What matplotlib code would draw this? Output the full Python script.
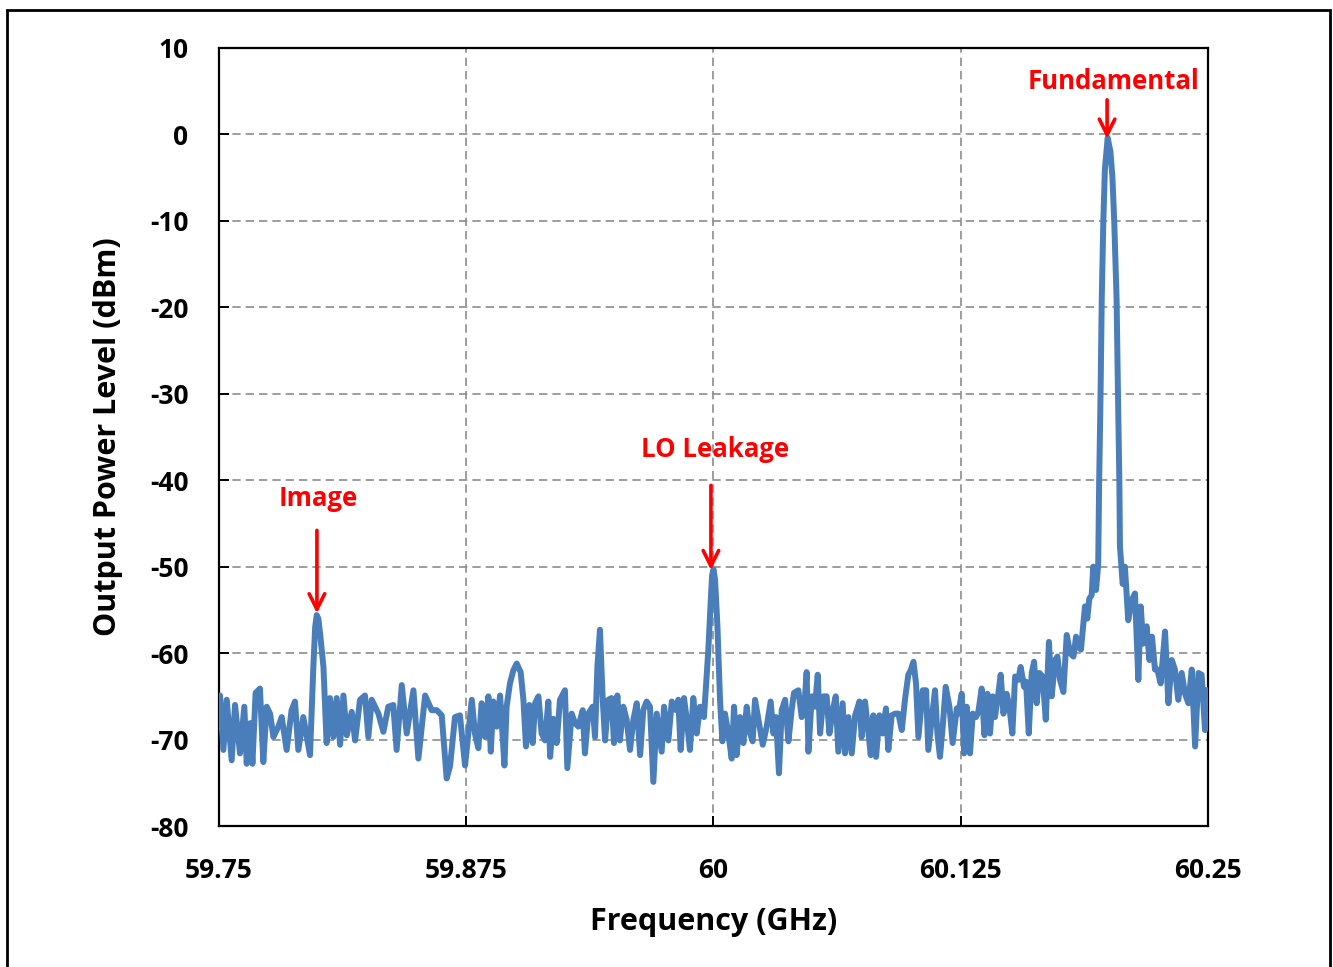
import matplotlib.pyplot as plt
from matplotlib.patches import Rectangle

# Spectrum analyzer trace around the 60 GHz carrier
freq_ghz = [
    59.7500, 59.7505, 59.7522, 59.7539, 59.7564, 59.7581, 59.7606, 59.7628, 59.7640, 59.7657,
    59.7669, 59.7685, 59.7707, 59.7724, 59.7741, 59.7758, 59.7775, 59.7800, 59.7817, 59.7842,
    59.7867, 59.7884, 59.7901, 59.7926, 59.7960, 59.7977, 59.7986, 59.7994, 59.8002, 59.8011,
    59.8028, 59.8044, 59.8061, 59.8078, 59.8095, 59.8112, 59.8129, 59.8146, 59.8171, 59.8188,
    59.8213, 59.8238, 59.8255, 59.8272, 59.8306, 59.8331, 59.8356, 59.8381, 59.8398, 59.8424,
    59.8449, 59.8483, 59.8508, 59.8542, 59.8575, 59.8601, 59.8626, 59.8651, 59.8668, 59.8693,
    59.8718, 59.8744, 59.8778,
    59.8794, 59.8811, 59.8828, 59.8845, 59.8862, 59.8874, 59.8887, 59.8904, 59.8921, 59.8943,
    59.8954, 59.8971, 59.8988, 59.9005, 59.9025, 59.9039, 59.9052, 59.9069, 59.9086, 59.9098,
    59.9115, 59.9131, 59.9148, 59.9165, 59.9174, 59.9190, 59.9207, 59.9224, 59.9249, 59.9261,
    59.9283, 59.9300, 59.9317, 59.9339, 59.9350, 59.9367, 59.9389, 59.9401, 59.9413, 59.9426,
    59.9440, 59.9452, 59.9468, 59.9485, 59.9497, 59.9514, 59.9527, 59.9544, 59.9561, 59.9578,
    59.9595, 59.9612, 59.9629, 59.9645, 59.9662, 59.9679, 59.9696, 59.9713, 59.9738, 59.9750,
    59.9772, 59.9789, 59.9811, 59.9822, 59.9834, 59.9851, 59.9865, 59.9881, 59.9898, 59.9915,
    59.9932, 59.9952, 59.9974, 59.9986, 59.9993, 60.0000, 60.0008, 60.0020,
    60.0033, 60.0045, 60.0058, 60.0075, 60.0092, 60.0104, 60.0117, 60.0134, 60.0151, 60.0168,
    60.0185, 60.0198, 60.0210, 60.0227, 60.0249, 60.0269, 60.0289, 60.0303, 60.0316, 60.0331,
    60.0345, 60.0362, 60.0379, 60.0395, 60.0407, 60.0429, 60.0446, 60.0458, 60.0471, 60.0480,
    60.0497, 60.0513, 60.0527, 60.0539, 60.0556, 60.0572, 60.0586, 60.0603, 60.0618, 60.0631,
    60.0653, 60.0665, 60.0682, 60.0699, 60.0716, 60.0738, 60.0749, 60.0766, 60.0783, 60.0795,
    60.0808, 60.0822, 60.0839, 60.0855, 60.0872, 60.0884, 60.0901, 60.0918, 60.0935, 60.0952,
    60.0968, 60.0985, 60.0997, 60.1011, 60.1024, 60.1036, 60.1058, 60.1075, 60.1086, 60.1103,
    60.1120, 60.1132, 60.1145, 60.1159, 60.1174, 60.1193, 60.1209, 60.1230,
    60.1238, 60.1255, 60.1267, 60.1280, 60.1297, 60.1311, 60.1327, 60.1339, 60.1356, 60.1370,
    60.1385, 60.1398, 60.1412, 60.1423, 60.1440, 60.1452, 60.1466, 60.1482, 60.1496, 60.1511,
    60.1525, 60.1541, 60.1553, 60.1570, 60.1580, 60.1594, 60.1609, 60.1621, 60.1634, 60.1648,
    60.1664, 60.1680, 60.1696, 60.1710, 60.1727, 60.1739, 60.1752, 60.1769, 60.1786, 60.1803,
    60.1820, 60.1833, 60.1845, 60.1858, 60.1870, 60.1878, 60.1890, 60.1900, 60.1912, 60.1920,
    60.1934, 60.1945, 60.1950, 60.1957, 60.1963, 60.1971, 60.1979, 60.1993, 60.2007, 60.2017,
    60.2026, 60.2038, 60.2045, 60.2052, 60.2055, 60.2069, 60.2080, 60.2097, 60.2114, 60.2131,
    60.2148, 60.2160, 60.2173, 60.2190, 60.2204, 60.2217, 60.2232, 60.2244, 60.2261, 60.2283,
    60.2300, 60.2317, 60.2333, 60.2350, 60.2367, 60.2384, 60.2401, 60.2418, 60.2435, 60.2452,
    60.2468, 60.2485, 60.2497,
]

power_dbm = [
    -68.5, -64.9, -71.2, -65.4, -72.4, -66.0, -71.6, -66.2, -72.8, -68.1,
    -72.8, -64.6, -64.1, -72.6, -66.2, -67.0, -69.7, -68.5, -67.4, -71.2,
    -66.6, -65.6, -71.2, -67.4, -71.8, -61.6, -57.0, -55.6, -56.0, -57.7,
    -61.6, -70.4, -65.2, -69.7, -65.2, -70.6, -64.9, -69.5, -66.8, -70.1,
    -65.4, -64.9, -69.7, -65.4, -67.0, -69.1, -66.2, -66.0, -71.2, -63.7,
    -69.3, -64.3, -72.2, -64.9, -66.6, -66.6, -67.2, -74.5, -73.1, -67.4,
    -67.2, -73.0, -65.4,
    -69.3, -71.0, -65.8, -69.7, -65.0, -71.4, -65.6, -68.5, -64.9, -73.0,
    -66.2, -63.5, -62.0, -61.2, -62.2, -65.4, -70.8, -66.0, -70.4, -65.8,
    -65.0, -69.3, -70.1, -65.6, -72.0, -67.6, -70.4, -65.4, -64.3, -73.3,
    -67.0, -68.1, -68.5, -66.6, -71.6, -67.0, -66.2, -69.7, -61.6, -57.3,
    -65.4, -70.1, -65.4, -65.2, -70.4, -64.9, -70.1, -66.2, -67.7, -71.2,
    -67.7, -65.8, -71.8, -66.6, -65.6, -66.2, -74.9, -67.0, -71.4, -66.2,
    -70.1, -65.6, -66.6, -65.4, -71.2, -65.2, -67.7, -71.2, -65.2, -69.3,
    -66.2, -67.4, -59.6, -54.0, -51.0, -50.3, -51.5, -56.9,
    -65.4, -70.2, -67.0, -69.3, -72.2, -66.2, -71.8, -67.4, -70.4, -66.2,
    -69.3, -70.2, -65.4, -67.7, -70.6, -68.5, -65.6, -69.3, -67.4, -73.9,
    -66.6, -65.4, -70.2, -66.6, -64.6, -64.3, -67.4, -66.6, -62.2, -71.4,
    -65.0, -66.2, -62.5, -69.3, -65.0, -65.0, -69.3, -66.6, -65.0, -71.4,
    -65.8, -71.6, -67.4, -71.6, -67.2, -65.6, -69.7, -65.6, -69.1, -71.8,
    -67.2, -72.0, -67.2, -69.3, -66.4, -71.2, -67.2, -67.0, -67.0, -68.9,
    -65.4, -62.5, -62.0, -61.0, -63.5, -69.7, -64.3, -64.3, -71.2, -67.7,
    -64.3, -69.3, -72.0, -68.5, -63.9, -66.2, -70.4, -66.4,
    -67.0, -64.7, -71.6, -66.2, -71.6, -67.0, -67.4, -66.8, -64.1, -69.5,
    -64.7, -69.3, -65.0, -67.4, -64.7, -62.5, -67.0, -64.7, -66.2, -69.3,
    -62.7, -63.1, -61.6, -63.9, -63.3, -69.3, -62.3, -61.0, -65.8, -62.3,
    -62.7, -67.7, -58.7, -65.0, -60.8, -60.4, -63.1, -64.5, -57.9, -60.0,
    -60.4, -58.1, -59.3, -59.6, -56.6, -54.6, -56.0, -53.7, -53.3, -50.0,
    -52.7, -49.8, -40.0, -30.0, -19.0, -10.0, -4.0, -0.4, -2.0, -5.0,
    -10.0, -19.0, -30.0, -40.0, -47.7, -52.0, -50.0, -56.2, -53.9, -53.1,
    -63.1, -54.6, -58.9, -56.9, -60.8, -58.1, -61.9, -61.9, -63.5, -57.5,
    -65.8, -60.8, -61.9, -65.4, -62.3, -64.7, -65.8, -61.9, -70.8, -62.3,
    -62.5, -68.9, -64.3,
]

x_ticks = [59.75, 59.875, 60.0, 60.125, 60.25]
x_tick_labels = ['59.75', '59.875', '60', '60.125', '60.25']
y_ticks = list(range(-80, 11, 10))

# Annotated tones: label, arrow x, arrow tail y, arrow head y, text x, text y
markers = [
    ('Image', 59.7995, -45.8, -55.4, 59.8000, -42.1),
    ('LO Leakage', 59.9987, -40.6, -50.4, 60.0008, -36.4),
    ('Fundamental', 60.1990, 4.0, -0.5, 60.2020, 6.1),
]

plt.rcParams['font.family'] = ['Open Sans', 'DejaVu Sans']
plt.rcParams['font.weight'] = 'bold'
plt.rcParams['axes.unicode_minus'] = False

fig = plt.figure(figsize=(13.33, 9.67), dpi=100)
ax = fig.add_axes([0.1643, 0.1458, 0.7419, 0.8046])

ax.plot(freq_ghz, power_dbm, color='#4A7EBB', linewidth=4.3, solid_joinstyle='round',
        zorder=3)

for label, ax_x, y_tail, y_head, tx, ty in markers:
    ax.annotate('', xy=(ax_x, y_head), xytext=(ax_x, y_tail),
                arrowprops=dict(arrowstyle='->', color='#FF0000', lw=2.6,
                                mutation_scale=28, shrinkA=0, shrinkB=0),
                zorder=4)
    ax.text(tx, ty, label, color='#FF0000', fontsize=18.5, fontweight='bold',
            ha='center', va='center', zorder=4)

ax.set_xlim(59.75, 60.25)
ax.set_ylim(-80, 10)
ax.set_xticks(x_ticks)
ax.set_xticklabels(x_tick_labels)
ax.set_yticks(y_ticks)

ax.grid(True, color='#8C8C8C', linestyle=(0, (5, 3)), linewidth=1.2)
ax.set_axisbelow(True)
for spine in ax.spines.values():
    spine.set_linewidth(1.6)
    spine.set_color('black')

ax.tick_params(direction='in', length=7, width=1.4, labelsize=19, pad=22)
ax.tick_params(axis='y', pad=22)
for lbl in ax.get_xticklabels() + ax.get_yticklabels():
    lbl.set_fontweight('bold')

ax.set_xlabel('Frequency (GHz)', fontsize=22, fontweight='bold', labelpad=17)
ax.set_ylabel('Output Power Level (dBm)', fontsize=22, fontweight='bold', labelpad=19)

# Outer frame around the whole figure
fig.add_artist(Rectangle((0.0053, -0.02), 0.9925, 1.0097, transform=fig.transFigure,
                         fill=False, edgecolor='black', linewidth=2))

fig.savefig('out.png', dpi=100)
